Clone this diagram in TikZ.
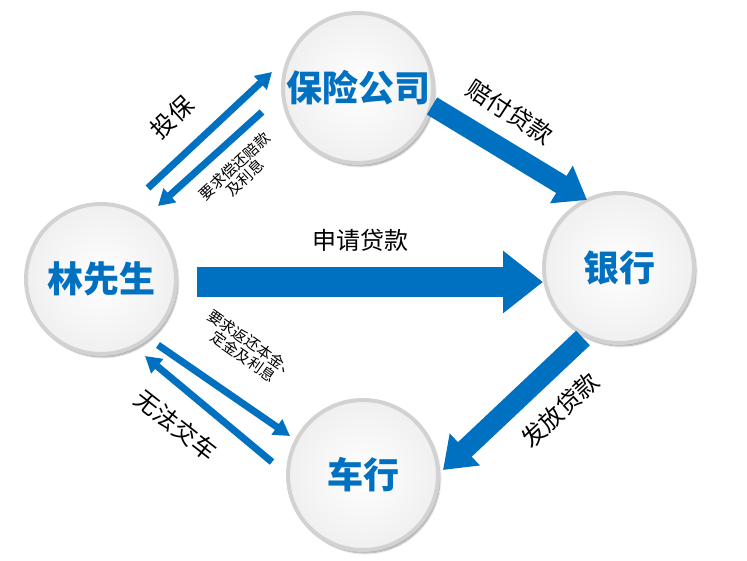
\documentclass[tikz,border=0pt]{standalone}
\usepackage{fontspec}
\newfontfamily\cjk{Noto Sans CJK SC}
\usetikzlibrary{arrows.meta,shadows.blur}
\definecolor{mblue}{RGB}{0,112,192}
\begin{document}
\begin{tikzpicture}[x=1pt,y=-1pt,
  circ/.style={circle,minimum size=150pt,inner sep=0pt,draw=gray!35,line width=4pt,
    inner color=white,outer color=gray!12,blur shadow={shadow blur steps=8,shadow xshift=2pt,shadow yshift=-3pt},
    font=\cjk\bfseries\fontsize{36}{40}\selectfont,text=mblue},
  big/.style={mblue,line width=30pt,-{Triangle[length=40pt,width=60pt]}},
  mid/.style={mblue,line width=20pt,-{Triangle[length=30pt,width=42pt]}},
  thin/.style={mblue,line width=7pt,-{Triangle[length=16pt,width=18pt]}},
  lab/.style={font=\cjk\fontsize{24}{26}\selectfont,text=black},
  slab/.style={font=\cjk\fontsize{15}{16}\selectfont,text=black,align=center}]
\useasboundingbox (0,0) rectangle (747,561);
\node[circ] (ins) at (358,88) {保险公司};
\node[circ] (lin) at (101,279) {林先生};
\node[circ] (bank) at (619,268) {银行};
\node[circ] (car) at (363,475) {车行};
\coordinate (a1) at (197,282); \coordinate (a2) at (543,282);
\draw[big] (a1) -- (a2);
\node[lab] (l1) at (360,240) {申请贷款};
\coordinate (b1) at (432,106); \coordinate (b2) at (587,200);
\draw[mid] (b1) -- (b2);
\node[lab,rotate=-33] (l2) at (510,112) {赔付贷款};
\coordinate (c1) at (583,338); \coordinate (c2) at (443,470);
\draw[mid] (c1) -- (c2);
\node[lab,rotate=43] (l3) at (560,410) {发放贷款};
\coordinate (d1) at (148,188); \coordinate (d2) at (272,72);
\draw[thin] (d1) -- (d2);
\node[lab,rotate=43] (l4) at (172,117) {投保};
\coordinate (e1) at (262,112); \coordinate (e2) at (158,206);
\draw[thin] (e1) -- (e2);
\node[slab,rotate=43] (l5) at (240,172) {要求偿还赔款\\及利息};
\coordinate (f1) at (158,345); \coordinate (f2) at (290,436);
\draw[thin] (f1) -- (f2);
\node[slab,rotate=-35] (l6) at (248,350) {要求返还本金、\\定金及利息};
\coordinate (g1) at (272,462); \coordinate (g2) at (145,356);
\draw[thin] (g1) -- (g2);
\node[lab,rotate=-38] (l7) at (176,425) {无法交车};
\end{tikzpicture}
\end{document}
